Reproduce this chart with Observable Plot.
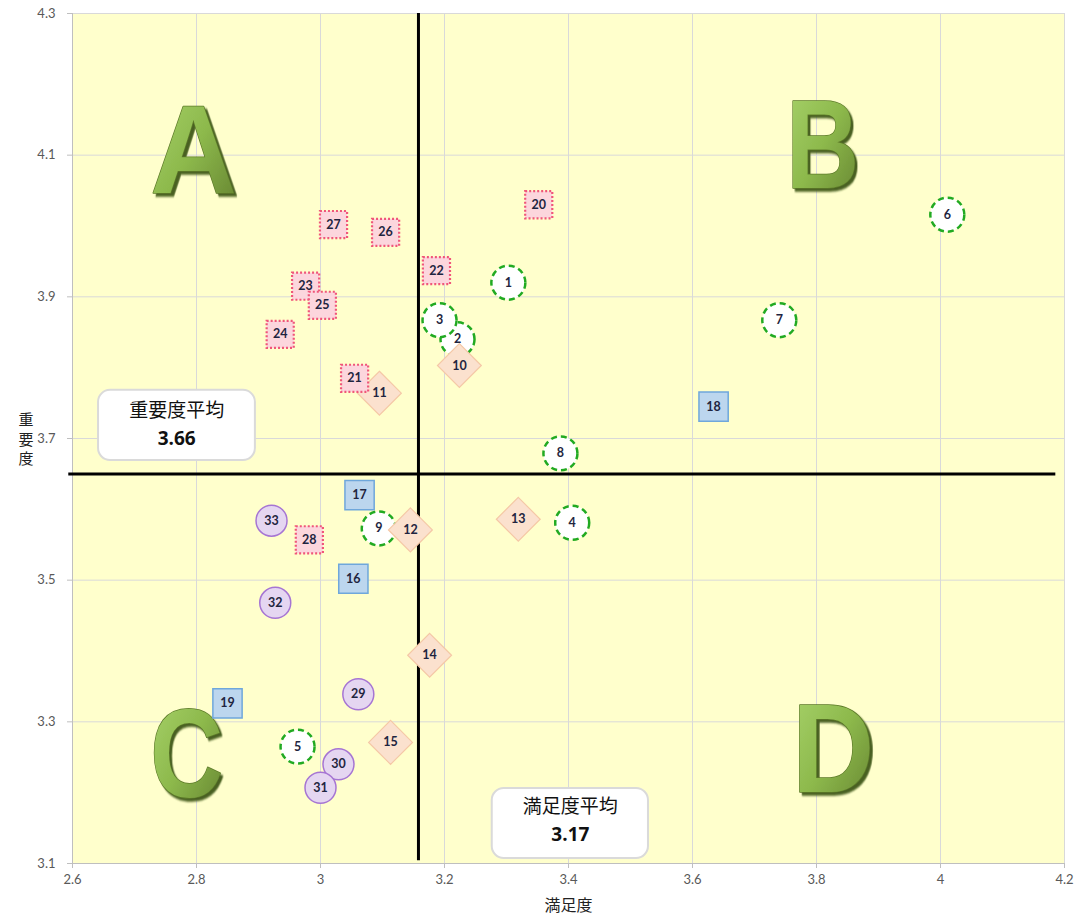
<!DOCTYPE html>
<html><head><meta charset="utf-8">
<script src="https://cdn.jsdelivr.net/npm/d3@7"></script>
<script src="https://cdn.jsdelivr.net/npm/@observablehq/plot@0.6"></script>
<style>body{margin:0;background:#fff}</style>
</head><body><div id="chart"></div>
<script>
// ---- data ----
const ids = [1,2,3,4,5,6,7,8,9,10,11,12,13,14,15,16,17,18,19,20,21,22,23,24,25,26,27,28,29,30,31,32,33];
const satisfaction = [3.303,3.221,3.192,3.406,2.963,4.011,3.740,3.387,3.094,
  3.224,3.095,3.145,3.319,3.176,3.113,
  3.053,3.063,3.634,2.850,
  3.352,3.055,3.187,2.976,2.935,3.003,3.105,3.021,2.982,
  3.061,3.029,3.000,2.927,2.921];
const importance = [3.920,3.840,3.867,3.581,3.265,4.016,3.867,3.679,3.573,
  3.803,3.764,3.571,3.586,3.394,3.271,
  3.502,3.620,3.745,3.326,
  4.030,3.785,3.937,3.915,3.847,3.888,3.991,4.002,3.557,
  3.339,3.240,3.207,3.468,3.584];
const groups = ["g","g","g","g","g","g","g","g","g",
  "d","d","d","d","d","d",
  "b","b","b","b",
  "p","p","p","p","p","p","p","p","p",
  "v","v","v","v","v"];
const xTicks = [2.6,2.8,3.0,3.2,3.4,3.6,3.8,4.0,4.2];
const yTicks = [3.1,3.3,3.5,3.7,3.9,4.1,4.3];
const xLabel = "満足度";
const yLabel = "重要度";
const quadrantLetters = ["A","B","C","D"];
const meanTitles = ["重要度平均","満足度平均"];
const meanValues = ["3.66","3.17"];
const meanLineX = 3.158, meanLineY = 3.650;

// ---- layout (positions in data units) ----
const letterPos = [[2.795,4.104],[3.810,4.111],[2.784,3.251],[3.827,3.258]];
const letterScale = {A:0.95, B:0.8, C:0.8, D:0.9};
const boxPos = [{x1:2.642,x2:2.895,y1:3.669,y2:3.768,cx:2.768,ty:3.7395,vy:3.700},
                {x1:3.277,x2:3.529,y1:3.107,y2:3.206,cx:3.403,ty:3.1804,vy:3.1409}];

const pts = ids.map((id,i)=>({id, x:satisfaction[i], y:importance[i], g:groups[i]}));
const letters = quadrantLetters.map((t,i)=>({t, x:letterPos[i][0], y:letterPos[i][1]}));
const boxes = meanTitles.map((t,i)=>({title:t, value:meanValues[i], ...boxPos[i]}));

const squareSym = {draw(ctx,size){const s=Math.sqrt(size)/2; ctx.moveTo(-s,-s); ctx.lineTo(s,-s); ctx.lineTo(s,s); ctx.lineTo(-s,s); ctx.closePath();}};
const diamondSym = {draw(ctx,size){const h=Math.sqrt(size/2); ctx.moveTo(0,-h); ctx.lineTo(h,0); ctx.lineTo(0,h); ctx.lineTo(-h,0); ctx.closePath();}};
const sel = g => pts.filter(d=>d.g===g);
const fmt = d => String(+d.toFixed(1));

const plot = Plot.plot({
  width: 1076, height: 920,
  marginLeft: 72, marginRight: 12, marginTop: 13, marginBottom: 57,
  x: {domain:[2.6,4.2]},
  y: {domain:[3.1,4.3]},
  style: {fontFamily:"Lato, 'Noto Sans CJK JP', sans-serif", background:"white", overflow:"visible"},
  marks: [
    Plot.frame({fill:"#FFFFCC", stroke:null}),
    Plot.gridX(xTicks, {stroke:"#D9D9D9", strokeOpacity:1}),
    Plot.gridY(yTicks, {stroke:"#D9D9D9", strokeOpacity:1}),
    Plot.ruleX([2.6], {stroke:"#BFBFBF"}),
    Plot.ruleY([3.1], {stroke:"#BFBFBF"}),
    Plot.axisX({ticks:xTicks, tickFormat:fmt, tickSize:5, tickPadding:6, fontSize:13, fill:"#595959", stroke:"#BFBFBF", label:null}),
    Plot.axisY({ticks:yTicks, tickFormat:fmt, tickSize:5, tickPadding:12, fontSize:13, fill:"#595959", stroke:"#BFBFBF", label:null}),
    Plot.text([yLabel.split("").join("\n")], {frameAnchor:"left", dx:-54, fontSize:15, lineHeight:1.3, fill:"#222", fontFamily:"'Noto Sans CJK JP', sans-serif"}),
    Plot.text([xLabel], {frameAnchor:"bottom", lineAnchor:"middle", dy:42, fontSize:16, fill:"#222", fontFamily:"'Noto Sans CJK JP', sans-serif"}),
    // quadrant letters
    Plot.text(letters, {x:"x", y:"y", text:"t", fontSize:126, fontWeight:"bold", fontFamily:"'Liberation Sans', sans-serif", fill:"url(#letterGrad)", stroke:"#5C7A28", strokeWidth:1.5}),
    // mean lines
    Plot.ruleX([meanLineX], {y1:3.104, y2:4.3, stroke:"#000", strokeWidth:3}),
    Plot.ruleY([meanLineY], {x1:2.594, x2:4.186, stroke:"#000", strokeWidth:3}),
    // markers
    Plot.dot(sel("g"), {x:"x", y:"y", r:17, fill:"white", stroke:"#22AA22", strokeWidth:2.5, strokeDasharray:"6,4"}),
    Plot.dot(sel("d"), {x:"x", y:"y", r:17.5, symbol:diamondSym, fill:"#FBE1CE", stroke:"#F5C8A6", strokeWidth:1.2}),
    Plot.dot(sel("b"), {x:"x", y:"y", r:16.5, symbol:squareSym, fill:"#BCD6EE", stroke:"#6FA7DB", strokeWidth:1.5}),
    Plot.dot(sel("p"), {x:"x", y:"y", r:15.3, symbol:squareSym, fill:"#FCD6DD", stroke:"#F0567A", strokeWidth:2.2, strokeDasharray:"2,2"}),
    Plot.dot(sel("v"), {x:"x", y:"y", r:15.5, fill:"#E5D6F1", stroke:"#A675D3", strokeWidth:1.5}),
    Plot.text(pts, {x:"x", y:"y", text:"id", fontSize:12.5, fontWeight:"bold", fill:"#1F2540"}),
    // mean boxes
    Plot.rect(boxes, {x1:"x1", x2:"x2", y1:"y1", y2:"y2", fill:"white", stroke:"#DADADA", strokeWidth:2, rx:12}),
    Plot.text(boxes, {x:"cx", y:"ty", text:"title", fontSize:19, fill:"#111", fontFamily:"'Noto Sans CJK JP', sans-serif"}),
    Plot.text(boxes, {x:"cx", y:"vy", text:"value", fontSize:19, fontWeight:"bold", fill:"#111", fontFamily:"'Open Sans', sans-serif"})
  ]
});

const svg = d3.select(plot);
const defs = svg.insert("defs", ":first-child");
const lg = defs.append("linearGradient").attr("id","letterGrad").attr("x1",0).attr("y1",0).attr("x2",1).attr("y2",1);
lg.append("stop").attr("offset","0%").attr("stop-color","#A9D46C");
lg.append("stop").attr("offset","50%").attr("stop-color","#8DB94C");
lg.append("stop").attr("offset","100%").attr("stop-color","#62802E");
const f = defs.append("filter").attr("id","bevel").attr("x","-20%").attr("y","-20%").attr("width","140%").attr("height","140%");
f.append("feDropShadow").attr("dx",3).attr("dy",3).attr("stdDeviation",0.8).attr("flood-color","#4A6121").attr("flood-opacity",1);
svg.selectAll("text").each(function(){
  const t = this.textContent;
  if (t.length === 1 && letterScale[t] && (this.getAttribute("font-size") === "126" || this.parentNode.getAttribute("font-size") === "126")) {
    const s = letterScale[t];
    const tr = this.getAttribute("transform");
    if (tr) this.setAttribute("transform", tr + ` scale(${s},1)`);
    else {
      const x = +this.getAttribute("x") || 0, y = +this.getAttribute("y") || 0;
      this.setAttribute("x", 0); this.setAttribute("y", 0);
      this.setAttribute("transform", `translate(${x},${y}) scale(${s},1)`);
    }
    this.setAttribute("filter","url(#bevel)");
  }
});
document.getElementById("chart").append(plot);
</script>
</body></html>
